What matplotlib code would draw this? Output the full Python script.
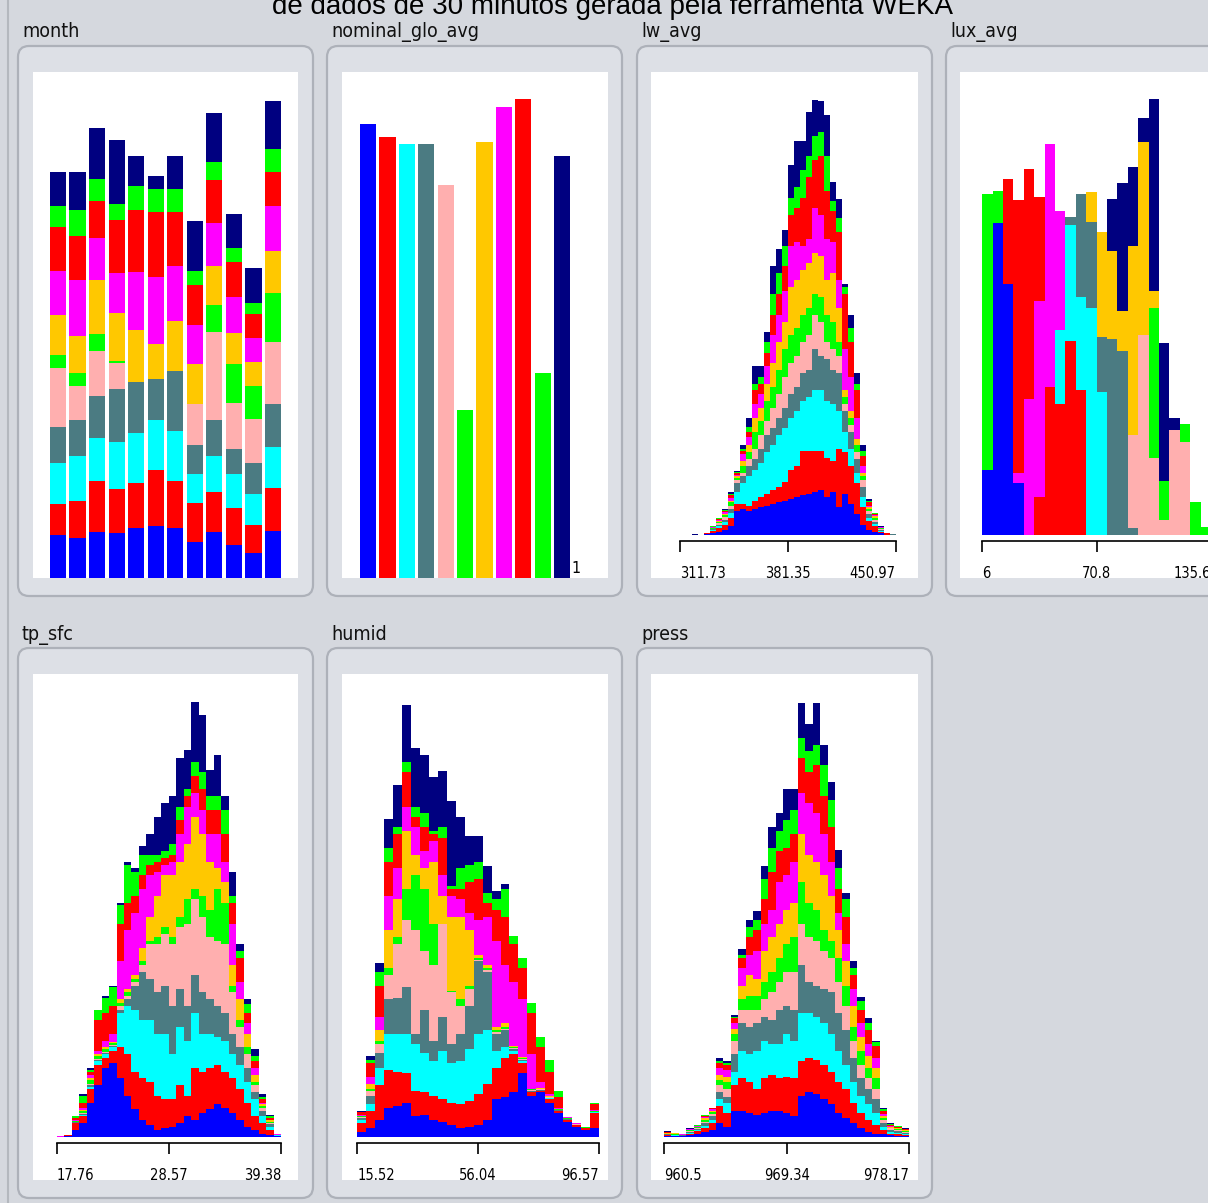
import matplotlib
matplotlib.use("Agg")
import matplotlib.pyplot as plt
import numpy as np
from matplotlib import font_manager
from matplotlib.patches import FancyBboxPatch, Rectangle

W, H = 1208, 1203

# Weka class palette, bottom to top of every stack
class_colors = ['#0000ff', '#ff0000', '#00ffff', '#4b7b82', '#ffafaf', '#00ff00',
                '#ffc800', '#ff00ff', '#ff0000', '#00ff00', '#000080']

title_text = 'de dados de 30 minutos gerada pela ferramenta WEKA'
panel_names = ['month', 'nominal_glo_avg', 'lw_avg', 'lux_avg', 'tp_sfc', 'humid', 'press']

# month: per bar, counts of the 11 classes (bottom -> top)
month_counts = [
    [125, 90, 120, 105, 170, 38, 117, 128, 127, 60, 100],
    [117, 106, 132, 105, 97, 38, 108, 164, 128, 75, 110],
    [135, 148, 124, 123, 130, 48, 157, 122, 108, 65, 147],
    [130, 130, 135, 155, 75, 4, 142, 115, 155, 46, 184],
    [145, 130, 145, 150, 0, 0, 150, 170, 178, 72, 87],
    [150, 165, 145, 117, 0, 0, 103, 193, 189, 68, 38],
    [145, 138, 144, 175, 0, 0, 146, 159, 155, 68, 97],
    [105, 112, 85, 85, 118, 0, 118, 112, 115, 43, 145],
    [135, 115, 105, 105, 255, 78, 112, 125, 125, 53, 144],
    [97, 106, 99, 73, 133, 115, 90, 102, 103, 40, 99],
    [72, 83, 88, 90, 130, 94, 71, 69, 70, 33, 100],
    [137, 125, 118, 125, 182, 140, 123, 132, 98, 67, 138],
]

# nominal_glo_avg: one bar per class value
nominal_counts = [1320, 1280, 1262, 1262, 1143, 487, 1267, 1367, 1392, 597, 1227]
nominal_extra_label = '1'

# lw_avg: cumulative class tops per bin
lw_range = (311.73, 450.97)
lw_ticklabels = ['311.73', '381.35', '450.97']
lw_cum = [
    [0] * 11, [0] * 11,
    [0, 0, 0, 0, 0, 0, 0, 0, 0, 0, 4],
    [0] * 11,
    [2, 3, 3, 4, 4, 4, 4, 4, 5, 5, 5],
    [5, 12, 14, 16, 18, 19, 20, 22, 24, 25, 25],
    [10, 20, 26, 30, 34, 38, 40, 43, 46, 48, 50],
    [15, 30, 38, 45, 52, 58, 62, 66, 70, 72, 75],
    [25, 50, 65, 75, 85, 95, 100, 108, 115, 118, 125],
    [70, 90, 125, 150, 160, 165, 170, 175, 180, 182, 185],
    [75, 90, 150, 170, 180, 200, 215, 235, 245, 250, 260],
    [70, 85, 170, 200, 220, 240, 260, 285, 300, 315, 340],
    [75, 100, 190, 220, 250, 300, 340, 380, 420, 440, 490],
    [80, 110, 210, 250, 290, 330, 370, 410, 440, 460, 490],
    [85, 120, 240, 290, 330, 390, 440, 490, 530, 560, 590],
    [90, 130, 260, 310, 370, 430, 500, 580, 640, 700, 780],
    [95, 140, 290, 340, 410, 480, 560, 640, 700, 760, 830],
    [100, 155, 310, 370, 460, 540, 620, 710, 780, 840, 885],
    [105, 190, 340, 410, 500, 580, 720, 840, 930, 980, 1075],
    [110, 200, 360, 430, 520, 600, 740, 850, 950, 1010, 1145],
    [115, 245, 390, 470, 560, 640, 770, 840, 980, 1060, 1145],
    [120, 245, 400, 480, 580, 660, 790, 860, 1040, 1100, 1230],
    [125, 245, 420, 540, 640, 700, 820, 950, 1090, 1160, 1265],
    [130, 245, 420, 520, 620, 690, 810, 930, 1100, 1170, 1260],
    [110, 225, 390, 510, 560, 640, 740, 860, 1000, 1100, 1220],
    [125, 215, 380, 480, 540, 620, 760, 850, 940, 970, 1025],
    [80, 250, 360, 470, 520, 560, 660, 740, 880, 920, 975],
    [120, 240, 300, 360, 380, 400, 420, 540, 700, 720, 730],
    [90, 200, 250, 300, 320, 340, 360, 460, 560, 600, 640],
    [60, 150, 180, 220, 240, 260, 280, 340, 420, 440, 470],
    [30, 80, 110, 140, 160, 170, 180, 200, 230, 245, 260],
    [15, 40, 50, 60, 70, 75, 80, 85, 95, 100, 105],
    [10, 25, 32, 38, 45, 50, 54, 58, 62, 64, 65],
    [5, 10, 13, 15, 17, 19, 20, 22, 23, 24, 25],
    [1, 2, 2, 3, 3, 3, 4, 4, 5, 5, 5],
    [0, 0, 0, 4, 4, 4, 4, 4, 4, 4, 4],
]

# lux_avg: cumulative class tops per bin
lux_range = (6, 135.6)
lux_ticklabels = ['6', '70.8', '135.6']
lux_cum = [
    [190, 190, 190, 190, 190, 190, 190, 190, 190, 990, 990],
    [905, 905, 905, 905, 905, 905, 905, 905, 905, 998, 998],
    [730, 730, 730, 730, 730, 730, 730, 730, 1035, 1035, 1035],
    [150, 150, 150, 150, 150, 150, 150, 180, 972, 972, 972],
    [0, 0, 0, 0, 0, 0, 0, 395, 1062, 1062, 1062],
    [0, 110, 110, 110, 110, 110, 110, 680, 983, 983, 983],
    [0, 430, 430, 430, 430, 430, 430, 1135, 1135, 1135, 1135],
    [0, 380, 595, 595, 595, 595, 595, 940, 940, 940, 940],
    [0, 565, 900, 925, 925, 925, 925, 925, 925, 925, 925],
    [0, 420, 690, 990, 990, 990, 990, 990, 990, 990, 990],
    [0, 0, 660, 910, 910, 910, 995, 995, 995, 995, 995],
    [0, 0, 415, 575, 575, 575, 880, 880, 880, 880, 880],
    [0, 0, 0, 570, 570, 570, 825, 825, 825, 825, 975],
    [0, 0, 0, 535, 535, 535, 650, 650, 650, 650, 1022],
    [0, 0, 0, 20, 290, 290, 840, 840, 840, 840, 1068],
    [0, 0, 0, 0, 580, 580, 1142, 1142, 1142, 1142, 1212],
    [0, 0, 0, 0, 225, 660, 708, 708, 708, 708, 1268],
    [0, 0, 0, 0, 45, 158, 158, 158, 158, 158, 558],
    [0, 0, 0, 0, 305, 305, 305, 305, 305, 305, 340],
    [0, 0, 0, 0, 270, 322, 322, 322, 322, 322, 322],
    [0, 0, 0, 0, 0, 97, 97, 97, 97, 97, 97],
    [0, 0, 0, 0, 0, 23, 23, 23, 23, 23, 23],
]

# tp_sfc: cumulative tops, one list per class
tp_range = (17.76, 39.38)
tp_ticklabels = ['17.76', '28.57', '39.38']
tp_layers = [
    [1, 2, 20, 40, 100, 150, 200, 215, 170, 120, 80, 50, 35, 20, 25, 30, 40, 60, 50, 70, 80, 95, 85, 70, 50, 30, 20, 10, 5, 2],
    [1, 3, 40, 60, 140, 210, 230, 250, 260, 240, 190, 170, 160, 120, 110, 110, 150, 120, 200, 190, 200, 210, 190, 170, 140, 100, 60, 40, 20, 4],
    [1, 3, 42, 65, 145, 220, 240, 260, 360, 380, 370, 340, 340, 300, 300, 240, 320, 280, 360, 300, 300, 290, 280, 240, 210, 160, 110, 60, 30, 5],
    [1, 3, 43, 68, 150, 225, 245, 265, 370, 400, 440, 480, 460, 420, 440, 380, 430, 380, 470, 420, 400, 380, 360, 300, 260, 200, 130, 75, 38, 6],
    [1, 3, 44, 70, 155, 228, 248, 268, 380, 410, 450, 500, 560, 560, 590, 560, 610, 620, 690, 640, 580, 570, 560, 420, 320, 240, 150, 85, 42, 6],
    [1, 4, 46, 75, 165, 235, 255, 272, 390, 420, 460, 510, 570, 580, 610, 580, 640, 690, 720, 700, 660, 720, 680, 440, 340, 260, 160, 90, 45, 7],
    [1, 4, 47, 78, 170, 240, 260, 276, 400, 430, 470, 550, 640, 700, 760, 760, 800, 850, 930, 880, 800, 780, 740, 500, 400, 300, 180, 95, 48, 7],
    [2, 4, 50, 85, 180, 250, 280, 300, 510, 600, 650, 720, 760, 770, 790, 800, 880, 960, 1000, 950, 880, 880, 800, 620, 450, 330, 200, 100, 50, 8],
    [2, 5, 55, 100, 190, 340, 360, 380, 620, 680, 700, 760, 790, 800, 810, 820, 920, 990, 1050, 1010, 950, 950, 880, 680, 520, 360, 220, 110, 55, 8],
    [2, 5, 60, 120, 195, 370, 405, 435, 675, 790, 770, 820, 820, 820, 830, 850, 960, 1010, 1090, 1060, 990, 990, 950, 700, 540, 385, 235, 115, 60, 9],
    [2, 5, 60, 125, 200, 370, 410, 440, 680, 800, 780, 845, 880, 930, 970, 990, 1100, 1125, 1265, 1225, 1065, 1110, 990, 770, 560, 400, 255, 125, 65, 10],
]

# humid: cumulative tops, one list per class
humid_range = (15.52, 96.57)
humid_ticklabels = ['15.52', '56.04', '96.57']
humid_layers = [
    [15, 25, 50, 85, 90, 100, 60, 65, 50, 45, 35, 25, 30, 35, 50, 110, 115, 130, 185, 120, 130, 100, 70, 45, 30, 20, 25],
    [40, 75, 150, 195, 190, 185, 135, 130, 120, 110, 100, 95, 105, 125, 155, 200, 230, 240, 215, 130, 135, 110, 75, 50, 35, 25, 70],
    [50, 95, 200, 300, 300, 300, 270, 245, 220, 250, 215, 220, 255, 300, 310, 250, 260, 250, 220, 132, 135, 112, 76, 50, 35, 25, 72],
    [55, 120, 245, 400, 405, 435, 300, 370, 280, 350, 270, 300, 380, 510, 480, 300, 310, 255, 225, 135, 137, 114, 78, 52, 36, 26, 73],
    [58, 135, 270, 470, 560, 630, 600, 540, 500, 620, 420, 380, 430, 515, 485, 305, 315, 258, 228, 137, 139, 115, 79, 53, 37, 27, 74],
    [60, 140, 280, 490, 580, 720, 760, 720, 620, 620, 425, 400, 440, 520, 490, 310, 320, 260, 230, 138, 140, 116, 80, 54, 38, 28, 75],
    [62, 155, 310, 600, 690, 890, 820, 780, 800, 700, 640, 640, 600, 530, 500, 320, 330, 265, 232, 140, 142, 118, 82, 55, 39, 29, 76],
    [65, 175, 350, 700, 780, 960, 900, 830, 860, 760, 700, 690, 650, 630, 640, 570, 500, 450, 400, 240, 160, 125, 85, 57, 40, 30, 78],
    [72, 215, 440, 800, 880, 1060, 930, 900, 880, 870, 720, 720, 740, 750, 680, 660, 640, 560, 490, 360, 260, 190, 115, 58, 40, 30, 95],
    [74, 225, 480, 840, 900, 1090, 960, 940, 890, 900, 730, 780, 790, 800, 710, 690, 720, 585, 520, 388, 290, 223, 135, 58, 40, 30, 100],
    [75, 235, 505, 925, 1023, 1255, 1130, 1110, 1045, 1063, 975, 930, 873, 873, 787, 715, 735, 585, 520, 388, 290, 223, 135, 58, 40, 30, 100],
]

# press: cumulative class tops per bin
press_range = (960.5, 978.17)
press_ticklabels = ['960.5', '969.34', '978.17']
press_cum = [
    [3, 6, 7, 8, 9, 10, 11, 13, 14, 15, 17],
    [2, 4, 5, 6, 7, 10, 11, 11, 12, 12, 13],
    [2, 3, 4, 5, 6, 7, 7, 8, 8, 9, 10],
    [5, 10, 12, 14, 17, 19, 20, 22, 23, 24, 25],
    [10, 16, 20, 23, 26, 28, 30, 32, 33, 34, 35],
    [15, 25, 32, 40, 45, 50, 54, 58, 61, 63, 65],
    [20, 40, 50, 60, 68, 72, 76, 80, 83, 84, 85],
    [40, 90, 110, 130, 150, 165, 180, 200, 215, 222, 230],
    [30, 70, 100, 115, 140, 160, 175, 195, 210, 215, 220],
    [75, 150, 190, 240, 280, 300, 315, 330, 345, 350, 355],
    [75, 170, 250, 330, 370, 400, 440, 490, 520, 530, 545],
    [70, 160, 240, 320, 370, 410, 470, 530, 580, 610, 630],
    [65, 140, 250, 330, 370, 410, 460, 540, 600, 630, 657],
    [70, 170, 280, 350, 400, 450, 540, 620, 690, 750, 787],
    [75, 180, 270, 340, 420, 480, 580, 660, 770, 840, 900],
    [75, 170, 270, 370, 450, 520, 620, 740, 830, 890, 940],
    [70, 175, 300, 380, 480, 560, 660, 760, 840, 920, 1010],
    [60, 170, 280, 370, 480, 580, 680, 800, 880, 950, 1010],
    [120, 220, 360, 500, 620, 740, 880, 1000, 1100, 1160, 1260],
    [130, 230, 360, 450, 580, 680, 820, 970, 1060, 1120, 1200],
    [125, 225, 350, 440, 570, 660, 800, 940, 1080, 1140, 1260],
    [110, 210, 330, 430, 540, 600, 760, 880, 990, 1080, 1140],
    [95, 190, 300, 420, 520, 570, 700, 800, 900, 980, 1030],
    [70, 160, 250, 360, 450, 520, 600, 650, 720, 780, 835],
    [55, 140, 210, 310, 380, 440, 510, 560, 640, 690, 710],
    [40, 100, 160, 230, 280, 320, 380, 430, 470, 490, 510],
    [25, 70, 120, 170, 210, 250, 290, 330, 370, 395, 407],
    [15, 50, 95, 140, 170, 200, 235, 270, 310, 330, 345],
    [10, 35, 70, 110, 140, 170, 200, 230, 265, 275, 280],
    [8, 20, 30, 40, 50, 55, 60, 66, 75, 80, 85],
    [5, 10, 15, 20, 25, 27, 30, 33, 36, 38, 40],
    [4, 8, 12, 16, 20, 22, 25, 27, 30, 32, 33],
    [3, 6, 9, 12, 15, 17, 19, 21, 23, 24, 25],
]

# ---------------------------------------------------------------- fonts
# pick a condensed face if one is installed (weka labels look narrow)
names = {f.name for f in font_manager.fontManager.ttflist}
dv_cond = any(f.name == 'DejaVu Sans' and 'condensed' in str(f.stretch)
              for f in font_manager.fontManager.ttflist)
if 'Liberation Sans Narrow' in names:
    narrow = dict(family='Liberation Sans Narrow')
    label_size, tick_size = 17, 12
elif dv_cond:
    narrow = dict(family='DejaVu Sans', fontstretch='condensed')
    label_size, tick_size = 14, 10.5
else:
    narrow = dict(family='Liberation Sans')
    label_size, tick_size = 14, 10.5

fig = plt.figure(figsize=(W / 100, H / 100), dpi=100)
fig.patch.set_facecolor('#d5d8de')

# background canvas in pixel coordinates
bg = fig.add_axes([0, 0, 1, 1])
bg.set_xlim(0, W)
bg.set_ylim(H, 0)
bg.axis('off')
bg.axvline(8, color='#b4b8be', lw=1.5)

# caption line is cut by the top edge in the original screenshot
bg.text(613, 14, title_text, ha='center', va='baseline', fontsize=20,
        family='Liberation Sans', color='black')

col_x = [18, 327, 637, 946]
white_x = [(33, 298), (342, 608), (651, 918), (960, 1240)]
rows = [(46, 596, 72, 578, 37), (648, 1198, 674, 1180, 640)]

slots = [(0, 0), (0, 1), (0, 2), (0, 3), (1, 0), (1, 1), (1, 2)]
for name, (r, c) in zip(panel_names, slots):
    fy0, fy1, wy0, wy1, ly = rows[r]
    x0 = col_x[c]
    x1 = x0 + 295 if c < 3 else 1260
    bg.add_patch(FancyBboxPatch((x0, fy0), x1 - x0, fy1 - fy0,
                                boxstyle='round,pad=0,rounding_size=11',
                                facecolor='#dde0e6', edgecolor='#adb1b9', lw=1.6))
    wx0, wx1 = white_x[c]
    bg.add_patch(Rectangle((wx0, wy0), wx1 - wx0, wy1 - wy0, facecolor='white',
                           edgecolor='none'))
    bg.text(x0 + 4, ly, name, ha='left', va='baseline', fontsize=label_size,
            color='#111111', **narrow)


def px_axes(x0, y0, x1, y1):
    ax = fig.add_axes([x0 / W, 1 - y1 / H, (x1 - x0) / W, (y1 - y0) / H])
    ax.patch.set_alpha(0)
    return ax


def stacked_hist(x0, x1, base, top, cum, lo, hi, ticklabels):
    ax = px_axes(x0, top, x1, base)
    cum = np.asarray(cum, dtype=float)
    counts = np.clip(np.diff(cum, axis=1, prepend=0), 0, None)
    edges = np.linspace(lo, hi, len(cum) + 1)
    bottom = np.zeros(len(cum))
    for k in range(11):
        ax.bar(edges[:-1], counts[:, k], width=np.diff(edges), bottom=bottom,
               align='edge', color=class_colors[k], linewidth=0)
        bottom += counts[:, k]
    ax.set_xlim(lo, hi)
    ax.set_ylim(0, 1345)
    for s in ['top', 'left', 'right']:
        ax.spines[s].set_visible(False)
    ax.spines['bottom'].set_position(('outward', 4.5))
    ax.spines['bottom'].set_linewidth(1.2)
    ax.set_yticks([])
    ax.set_xticks([lo, (lo + hi) / 2, hi])
    ax.set_xticklabels(ticklabels, fontsize=tick_size, **narrow)
    ax.tick_params(axis='x', direction='out', length=8, width=1.2, pad=9.5)
    labs = ax.get_xticklabels()
    labs[0].set_ha('left')
    labs[-1].set_ha('right')
    return ax


# month panel
ax = px_axes(48.4, 72, 282.6, 578)
mc = np.asarray(month_counts, dtype=float)
bottom = np.zeros(len(mc))
for k in range(11):
    ax.bar(np.arange(len(mc)) + 0.08, mc[:, k], width=0.84, bottom=bottom,
           align='edge', color=class_colors[k], linewidth=0)
    bottom += mc[:, k]
ax.set_xlim(0, 12)
ax.set_ylim(0, 1470)
ax.axis('off')

# nominal_glo_avg panel
ax = px_axes(358.4, 72, 591.2, 578)
ax.bar(np.arange(len(nominal_counts)) + 0.08, nominal_counts, width=0.84,
       align='edge', color=class_colors, linewidth=0)
ax.set_xlim(0, 12)
ax.set_ylim(0, 1470)
ax.axis('off')
ax.text(11.0, 6, nominal_extra_label, ha='left', va='bottom',
        fontsize=tick_size + 1, color='black', **narrow)

stacked_hist(680, 895.7, 535, 72, lw_cum, *lw_range, lw_ticklabels)
stacked_hist(982.3, 1211, 535, 72, lux_cum, *lux_range, lux_ticklabels)
stacked_hist(56.7, 281, 1137, 674, np.array(tp_layers).T, *tp_range, tp_ticklabels)
stacked_hist(357.3, 599, 1137, 674, np.array(humid_layers).T, *humid_range, humid_ticklabels)
stacked_hist(664, 909.3, 1137, 674, press_cum, *press_range, press_ticklabels)

fig.savefig('out.png', dpi=100, facecolor=fig.get_facecolor())
